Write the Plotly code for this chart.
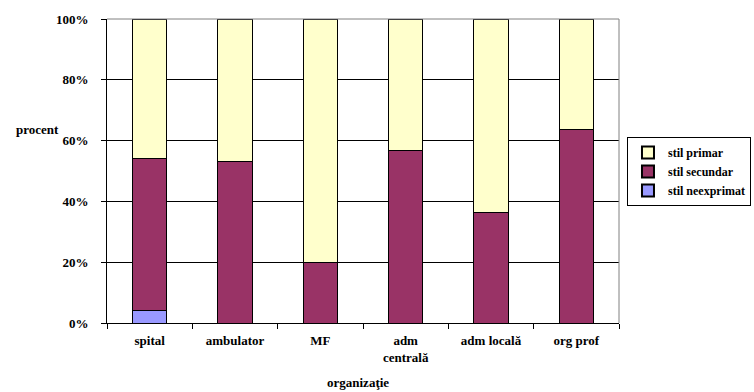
import plotly.graph_objects as go

categories = ["spital", "ambulator", "MF", "adm<br>centrală", "adm locală", "org prof"]
neexprimat = [4.2, 0, 0, 0, 0, 0]
secundar = [50.0, 53.2, 20.0, 56.8, 36.4, 63.7]
primar = [45.8, 46.8, 80.0, 43.2, 63.6, 36.3]

series = [
    ("stil neexprimat", neexprimat, "#9999FF"),
    ("stil secundar", secundar, "#993366"),
    ("stil primar", primar, "#FFFFCC"),
]

font = dict(family="Liberation Serif, Times New Roman, serif", size=13, color="black", weight="bold")

fig = go.Figure()
for name, vals, col in series:
    fig.add_trace(go.Bar(
        x=categories, y=vals, name=name,
        marker=dict(color=col, line=dict(color="black", width=1)),
        width=0.4,
    ))

fig.update_layout(
    width=754, height=392,
    barmode="stack",
    paper_bgcolor="white", plot_bgcolor="white",
    margin=dict(l=107, r=135, t=19, b=69, autoexpand=False),
    font=font,
    showlegend=True,
    legend=dict(
        traceorder="reversed",
        x=1.0156, xanchor="left", y=0.498, yanchor="middle",
        bordercolor="black", borderwidth=1,
        font=dict(family="Liberation Serif, Times New Roman, serif", size=12, color="black", weight="bold"),
        itemsizing="constant", tracegroupgap=0, itemwidth=30,
    ),
    xaxis=dict(
        showline=True, linecolor="black", linewidth=1,
        ticks="outside", ticklen=5, tickcolor="black", tickson="boundaries",
        showgrid=False, tickfont=font, ticklabelstandoff=5,
    ),
    yaxis=dict(
        range=[0, 100], tickvals=[0, 20, 40, 60, 80, 100],
        ticktext=["0%", "20%", "40%", "60%", "80%", "100%"],
        showline=True, linecolor="black", linewidth=1,
        ticks="outside", ticklen=5, tickcolor="black",
        showgrid=True, gridcolor="black", gridwidth=1,
        tickfont=font, ticklabelstandoff=10,
    ),
    shapes=[
        dict(type="line", xref="paper", yref="paper", x0=1, x1=1, y0=0, y1=1,
             line=dict(color="#808080", width=1)),
        dict(type="line", xref="paper", yref="paper", x0=0, x1=1, y0=1, y1=1,
             line=dict(color="#808080", width=1)),
    ],
    annotations=[
        dict(text="procent", xref="paper", yref="paper", x=-0.182, y=0.635,
             xanchor="left", yanchor="middle", showarrow=False, font=font),
        dict(text="organizaţie", xref="paper", yref="paper", x=0.491, y=-0.197,
             xanchor="center", yanchor="middle", showarrow=False, font=font),
    ],
)

fig.write_html(
    "out.html",
    config={"displayModeBar": False},
    post_script="document.body.style.margin='0';document.body.style.padding='0';document.body.style.overflow='hidden';",
)
